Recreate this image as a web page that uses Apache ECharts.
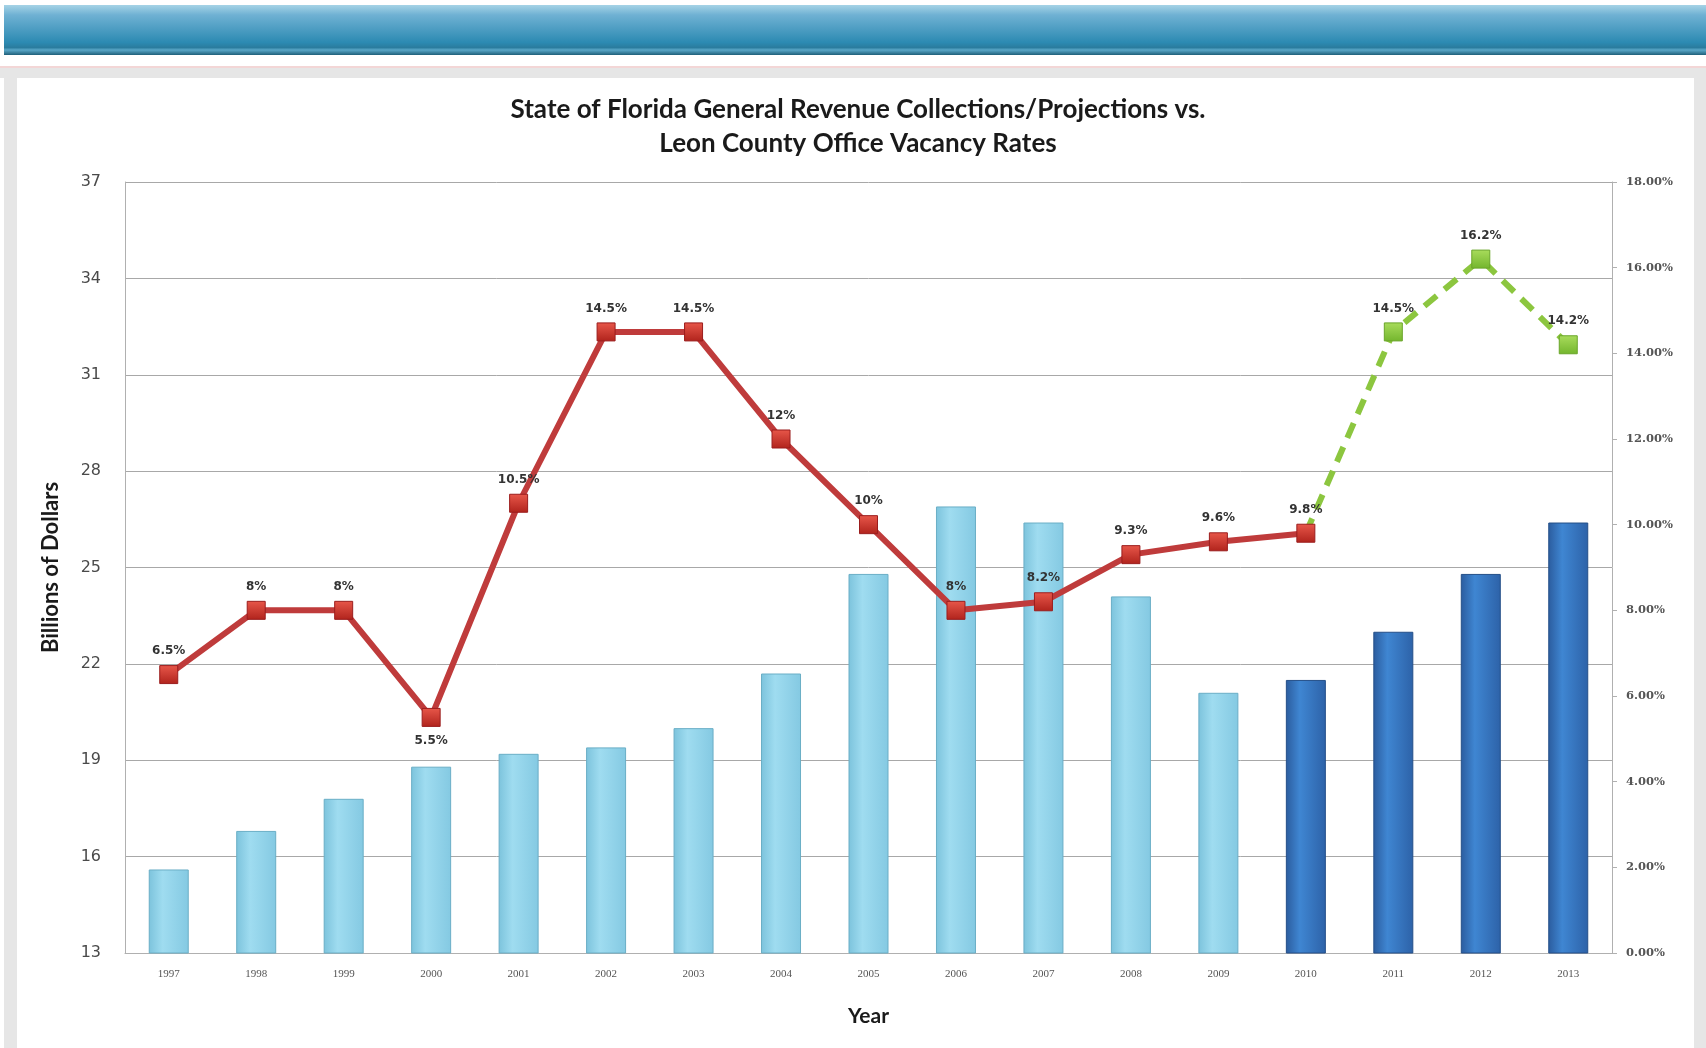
<!DOCTYPE html>
<html lang="en">
<head>
    <meta charset="UTF-8">
    <title>Florida Revenue vs Leon County Vacancy</title>
    <script src="https://cdn.jsdelivr.net/npm/echarts@6/dist/echarts.min.js"></script>
    <style>
        html, body { margin: 0; padding: 0; background: #fff; }
    </style>
</head>
<body>
    <div id="main" style="width: 1706px;height:1048px;"></div>
    <script>
        // data
        const years = ['1997', '1998', '1999', '2000', '2001', '2002', '2003', '2004', '2005', '2006', '2007', '2008', '2009', '2010', '2011', '2012', '2013'];
        const revenue = [15.6, 16.8, 17.8, 18.8, 19.2, 19.4, 20.0, 21.7, 24.8, 26.9, 26.4, 24.1, 21.1, 21.5, 23.0, 24.8, 26.4];
        const vacancyActual = [6.5, 8, 8, 5.5, 10.5, 14.5, 14.5, 12, 10, 8, 8.2, 9.3, 9.6, 9.8, null, null, null];
        const vacancyProjected = [null, null, null, null, null, null, null, null, null, null, null, null, null, 9.8, 14.5, 16.2, 14.2];
        const firstProjectedYear = '2010';
        const labelsBelow = ['2000'];
        const leftTicks = { min: 13, max: 37, step: 3 };
        const rightTicks = { min: 0, max: 18, step: 2 };

        var chartDom = document.getElementById('main');
        var myChart = echarts.init(chartDom);

        const projIdx = years.indexOf(firstProjectedYear);

        const lightBar = new echarts.graphic.LinearGradient(0, 0, 1, 0, [
            { offset: 0, color: '#7cc3dc' },
            { offset: 0.35, color: '#9fdcf0' },
            { offset: 1, color: '#84c9e2' }
        ]);
        const darkBar = new echarts.graphic.LinearGradient(0, 0, 1, 0, [
            { offset: 0, color: '#2b5c9e' },
            { offset: 0.35, color: '#3f86d2' },
            { offset: 1, color: '#2d62a8' }
        ]);
        const redMark = new echarts.graphic.LinearGradient(0, 0, 0, 1, [
            { offset: 0, color: '#e8574a' },
            { offset: 1, color: '#b0231c' }
        ]);
        const greenMark = new echarts.graphic.LinearGradient(0, 0, 0, 1, [
            { offset: 0, color: '#a9dc5c' },
            { offset: 1, color: '#73b52d' }
        ]);

        const labelStyle = {
            show: true,
            position: 'top',
            distance: 8,
            formatter: '{c}%',
            fontSize: 12,
            fontWeight: 'bold',
            color: '#333',
            fontFamily: 'DejaVu Sans'
        };

        var option = {
            backgroundColor: '#fff',
            animation: false,
            graphic: [
                // header band
                {
                    type: 'rect', left: 4, top: 5, z: -10,
                    shape: { width: 1702, height: 50 },
                    style: {
                        fill: new echarts.graphic.LinearGradient(0, 0, 0, 1, [
                            { offset: 0, color: '#a6d3e6' },
                            { offset: 0.2, color: '#6fb1d3' },
                            { offset: 0.75, color: '#2c8ab2' },
                            { offset: 0.85, color: '#2a7c9e' },
                            { offset: 0.9, color: '#5aa7c7' },
                            { offset: 1, color: '#1f5f7a' }
                        ])
                    }
                },
                { type: 'rect', left: 0, top: 66, z: -10, shape: { width: 1706, height: 2 }, style: { fill: '#f3d6d6' } },
                { type: 'rect', left: 0, top: 68, z: -10, shape: { width: 1706, height: 10 }, style: { fill: '#e6e6e6' } },
                { type: 'rect', left: 4, top: 68, z: -10, shape: { width: 13, height: 980 }, style: { fill: '#e6e6e6' } },
                { type: 'rect', left: 1694, top: 68, z: -10, shape: { width: 12, height: 980 }, style: { fill: '#e6e6e6' } },
                { type: 'rect', left: 17, top: 78, z: -9, shape: { width: 1677, height: 970 }, style: { fill: '#ffffff' } }
            ],
            title: {
                text: 'State of Florida General Revenue Collections/Projections vs.\nLeon County Office Vacancy Rates',
                left: 853,
                textAlign: 'center',
                top: 88,
                textStyle: {
                    fontFamily: 'Lato',
                    fontWeight: 'bold',
                    fontSize: 26,
                    lineHeight: 34,
                    color: '#1a1a1a'
                }
            },
            grid: { left: 125, right: 94, top: 182, bottom: 95 },
            xAxis: {
                type: 'category',
                data: years,
                name: 'Year',
                nameLocation: 'middle',
                nameGap: 53,
                nameTextStyle: { fontFamily: 'Lato', fontWeight: 'bold', fontSize: 21, color: '#1a1a1a' },
                axisLine: { lineStyle: { color: '#b0b0b0' } },
                axisTick: { show: false },
                axisLabel: { fontFamily: 'Liberation Serif', fontSize: 11, color: '#555', margin: 16 }
            },
            yAxis: [
                {
                    type: 'value',
                    min: leftTicks.min,
                    max: leftTicks.max,
                    interval: leftTicks.step,
                    name: 'Billions of Dollars',
                    nameLocation: 'middle',
                    nameGap: 63,
                    nameTextStyle: { fontFamily: 'Lato', fontWeight: 'bold', fontSize: 22, color: '#1a1a1a' },
                    axisLine: { show: true, lineStyle: { color: '#b0b0b0' } },
                    axisTick: { show: false },
                    axisLabel: { fontFamily: 'DejaVu Sans', fontSize: 16, color: '#4a4a4a', margin: 24 },
                    splitLine: { lineStyle: { color: '#a8a8a8', width: 1 } }
                },
                {
                    type: 'value',
                    min: rightTicks.min,
                    max: rightTicks.max,
                    interval: rightTicks.step,
                    position: 'right',
                    axisLine: { show: true, lineStyle: { color: '#b0b0b0' } },
                    axisTick: { show: true, length: 5, lineStyle: { color: '#b0b0b0' } },
                    axisLabel: {
                        fontFamily: 'DejaVu Serif',
                        fontSize: 11.5,
                        fontWeight: 'bold',
                        color: '#555',
                        margin: 14,
                        formatter: v => v.toFixed(2) + '%'
                    },
                    splitLine: { show: false }
                }
            ],
            series: [
                {
                    name: 'General Revenue',
                    type: 'bar',
                    yAxisIndex: 0,
                    barWidth: 40,
                    data: revenue.map((v, i) => ({
                        value: v,
                        itemStyle: {
                            color: i >= projIdx ? darkBar : lightBar,
                            borderColor: i >= projIdx ? '#244f88' : '#6aaec6',
                            borderWidth: 1
                        }
                    }))
                },
                {
                    name: 'Vacancy',
                    type: 'line',
                    yAxisIndex: 1,
                    data: vacancyActual.map((v, i) => labelsBelow.includes(years[i])
                        ? { value: v, label: { position: 'bottom', distance: 8 } }
                        : v),
                    symbol: 'rect',
                    symbolSize: 18,
                    z: 5,
                    lineStyle: { color: '#bf3b3b', width: 6 },
                    itemStyle: { color: redMark, borderColor: '#9b1d1d', borderWidth: 1 },
                    label: labelStyle
                },
                {
                    name: 'Vacancy Projection',
                    type: 'line',
                    yAxisIndex: 1,
                    z: 4,
                    data: vacancyProjected.map((v, i) => i === projIdx
                        ? { value: v, symbol: 'none', label: { show: false } }
                        : v),
                    symbol: 'rect',
                    symbolSize: 18,
                    lineStyle: { color: '#8cc63f', width: 6, type: [16, 10] },
                    itemStyle: { color: greenMark, borderColor: '#6aa52a', borderWidth: 1 },
                    label: labelStyle
                }
            ]
        };

        myChart.setOption(option);
    </script>
</body>
</html>
